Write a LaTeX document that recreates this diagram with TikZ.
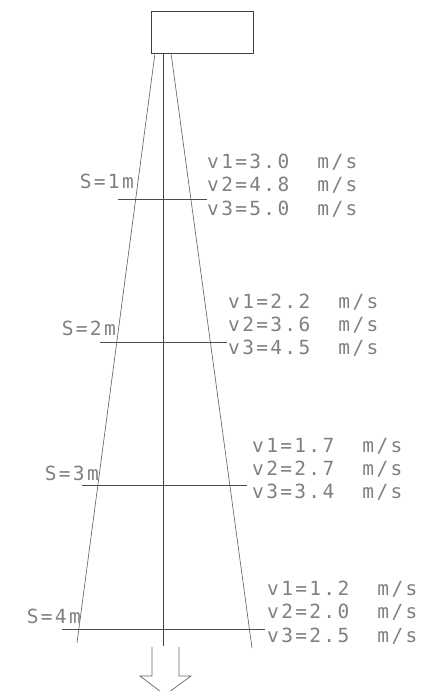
\documentclass[tikz,border=0pt]{standalone}
\usepackage{fontspec}
\newfontfamily\drawfont[LetterSpace=12]{DejaVu Sans Mono}
\begin{document}
\begin{tikzpicture}[x=1pt,y=-1pt,
  lbl/.style={font=\drawfont\fontsize{19.5}{19.5}\selectfont, text=black!50, inner sep=0pt},
  vel/.style={lbl, anchor=base west},
  slbl/.style={lbl, anchor=base east},
  hline/.style={draw=black!70, line width=0.7pt},
  sline/.style={draw=black!60, line width=0.65pt},
  cline/.style={draw=black!75, line width=0.7pt},
  flowarrow/.style={draw=black!60, line width=0.7pt, line join=miter}]
\useasboundingbox (0,0) rectangle (427,691);
% nozzle box
\node[draw=black!75, line width=0.8pt, minimum width=102pt, minimum height=42pt, inner sep=0pt] (box) at (202,32) {};
% spray lines
\coordinate (lt) at (155,53);
\coordinate (ct) at (163,53);
\coordinate (rt) at (171,53);
\coordinate (lb) at (77,643);
\coordinate (cb) at (163,646);
\coordinate (rb) at (252,648);
\draw[sline] (lt) -- (lb);
\draw[sline] (rt) -- (rb);
\draw[cline] (ct) -- (cb);
% distance lines
\coordinate (h1l) at (118,199); \coordinate (h1r) at (207,199);
\coordinate (h2l) at (100,342); \coordinate (h2r) at (227,342);
\coordinate (h3l) at (82,485);  \coordinate (h3r) at (247,485);
\coordinate (h4l) at (62,629);  \coordinate (h4r) at (265,629);
\draw[hline] (h1l) -- (h1r);
\draw[hline] (h2l) -- (h2r);
\draw[hline] (h3l) -- (h3r);
\draw[hline] (h4l) -- (h4r);
% distance labels
\node[slbl] (s1) at (134,188) {S=1m};
\node[slbl] (s2) at (116,335) {S=2m};
\node[slbl] (s3) at (99,480) {S=3m};
\node[slbl] (s4) at (81,623) {S=4m};
% velocities
\node[vel] (a1) at (207,168) {v1=3.0~~m/s};
\node[vel] (a2) at (207,191) {v2=4.8~~m/s};
\node[vel] (a3) at (207,215) {v3=5.0~~m/s};
\node[vel] (b1) at (228,308) {v1=2.2~~m/s};
\node[vel] (b2) at (228,331) {v2=3.6~~m/s};
\node[vel] (b3) at (228,354) {v3=4.5~~m/s};
\node[vel] (c1) at (252,452) {v1=1.7~~m/s};
\node[vel] (c2) at (252,475) {v2=2.7~~m/s};
\node[vel] (c3) at (252,498) {v3=3.4~~m/s};
\node[vel] (d1) at (267,595) {v1=1.2~~m/s};
\node[vel] (d2) at (267,618) {v2=2.0~~m/s};
\node[vel] (d3) at (267,642) {v3=2.5~~m/s};
% flow arrow
\coordinate (fa1) at (152,647);
\coordinate (fa2) at (179,647);
\coordinate (ftip) at (165,695);
\draw[flowarrow] (fa1) -- (152,676) -- (140,676) -- (ftip) -- (191,676) -- (179,676) -- (fa2);
\end{tikzpicture}
\end{document}
